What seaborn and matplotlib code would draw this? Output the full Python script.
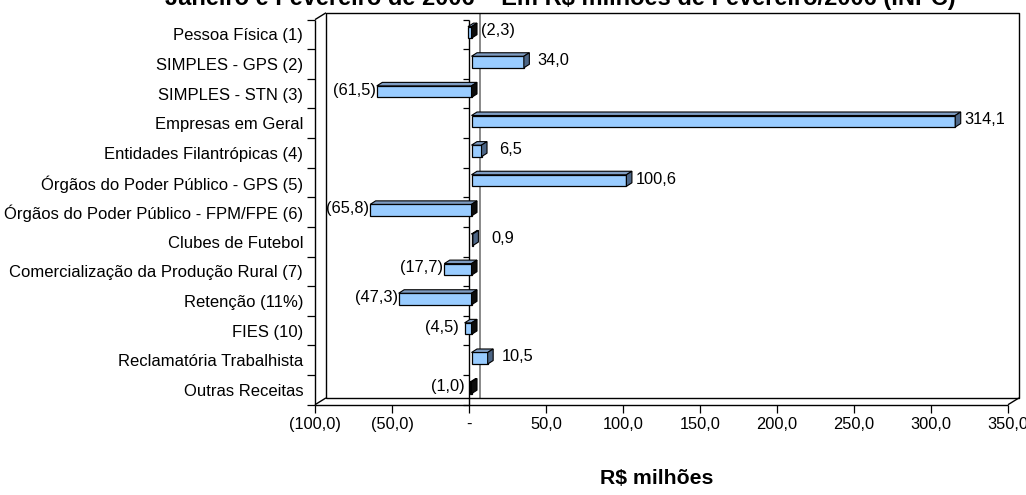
import matplotlib
matplotlib.use("Agg")
import matplotlib.pyplot as plt
import matplotlib.transforms as mtransforms
from matplotlib.patches import Polygon
from matplotlib.lines import Line2D
import pandas as pd
import seaborn as sns

# ---- data -------------------------------------------------------------
categories = [
    "Pessoa Física (1)",
    "SIMPLES - GPS (2)",
    "SIMPLES - STN (3)",
    "Empresas em Geral",
    "Entidades Filantrópicas (4)",
    "Órgãos do Poder Público - GPS (5)",
    "Órgãos do Poder Público - FPM/FPE (6)",
    "Clubes de Futebol",
    "Comercialização da Produção Rural (7)",
    "Retenção (11%)",
    "FIES (10)",
    "Reclamatória Trabalhista",
    "Outras Receitas",
]
values = [-2.3, 34.0, -61.5, 314.1, 6.5, 100.6, -65.8, 0.9, -17.7, -47.3, -4.5, 10.5, -1.0]
x_ticks = [-100, -50, 0, 50, 100, 150, 200, 250, 300, 350]

title = "Janeiro e Fevereiro de 2006 – Em R$ milhões de Fevereiro/2006 (INPC)"
x_title = "R$ milhões"


def br_number(v):
    """Brazilian style: comma decimal, negatives in parentheses, zero as '-'."""
    if v == 0:
        return "-"
    s = f"{abs(v):.1f}".replace(".", ",")
    return f"({s})" if v < 0 else s


# ---- style ------------------------------------------------------------
sns.set_theme(style="white")
plt.rcParams["font.family"] = ["Liberation Sans", "DejaVu Sans"]
FS_CAT = 12.0
FS = 11.8

W, H, DPI = 1026, 495, 100
fig = plt.figure(figsize=(W / DPI, H / DPI), dpi=DPI)
fig.patch.set_facecolor("white")

# front plane of the 3D box, in pixels
PL, PR, PT, PB = 315, 1008, 19.6, 404.7
ax = fig.add_axes([PL / W, 1 - PB / H, (PR - PL) / W, (PB - PT) / H])
ax.set_facecolor("none")

df = pd.DataFrame({"categoria": categories, "valor": values})
sns.barplot(
    data=df, x="valor", y="categoria", orient="h",
    color="#99CCFF", saturation=1, width=0.39,
    edgecolor="black", linewidth=0.9, ax=ax, zorder=3,
)
ax.set_xlim(-100, 350)
ax.set_ylim(len(categories) - 0.5, -0.5)
ax.set_xlabel("")
ax.set_ylabel("")
for s in ax.spines.values():
    s.set_visible(False)

# ticks: category labels at the left, boundary ticks, value ticks below
ax.set_yticks(range(len(categories)))
ax.set_yticklabels(categories, fontsize=FS_CAT, color="black")
ax.set_yticks([i - 0.5 for i in range(len(categories) + 1)], minor=True)
ax.tick_params(axis="y", which="major", length=0, pad=8.5)
ax.tick_params(axis="y", which="minor", length=5.8, width=0.9, color="black", left=True, direction="out")
ax.set_xticks(x_ticks)
ax.set_xticklabels([br_number(v) for v in x_ticks], fontsize=FS, color="black")
ax.tick_params(axis="x", which="major", length=5.8, width=0.9, color="black",
               bottom=True, direction="out", pad=3)

ident = mtransforms.IdentityTransform()
DX, DY = 11, 6.8          # depth of the box (back wall offset)
BDX, BDY = 2.5, 2.0       # bars sit slightly behind the front plane
FDX, FDY = 5.5, 3.5       # depth of each bar


def line(pts, color="black", lw=1.0, z=2):
    xs, ys = zip(*pts)
    ax.add_line(Line2D(xs, ys, transform=ident, color=color, lw=lw,
                       clip_on=False, zorder=z, solid_capstyle="butt"))


to_px = ax.transData.transform
fl, fb = ax.transAxes.transform((0, 0))
fr, ft = ax.transAxes.transform((1, 1))

# back wall, floor edge and side wall
line([(fl + DX, fb + DY), (fl + DX, ft + DY), (fr + DX, ft + DY), (fr + DX, fb + DY), (fl + DX, fb + DY)])
line([(fl, ft), (fl + DX, ft + DY)])
line([(fl, fb), (fl + DX, fb + DY)])
line([(fr, fb), (fr + DX, fb + DY)])
line([(fl, fb), (fr, fb)])
line([(fl, fb), (fl, ft)])

# zero lines: grey on the back wall, black on the front plane with ticks
zx, _ = to_px((0, 0))
line([(zx + DX, fb + DY), (zx + DX, ft + DY)], color="#808080", lw=1.3, z=1)
line([(zx, fb), (zx, ft)], lw=1.0, z=2)
for i in range(len(categories) + 1):
    _, yy = to_px((0, i - 0.5))
    line([(zx - 6, yy), (zx, yy)], lw=0.9)

# 3D faces on each bar
bar_tf = ax.transData + mtransforms.Affine2D().translate(BDX, BDY)
for p, v in zip(ax.patches, values):
    p.set_transform(bar_tf)
    (xa, ya), (xb, yb) = bar_tf.transform(
        [(p.get_x(), p.get_y()), (p.get_x() + p.get_width(), p.get_y() + p.get_height())])
    left, right = min(xa, xb), max(xa, xb)
    bot, top = min(ya, yb), max(ya, yb)
    top_face = [(left, top), (right, top), (right + FDX, top + FDY), (left + FDX, top + FDY)]
    side_face = [(right, bot), (right, top), (right + FDX, top + FDY), (right + FDX, bot + FDY)]
    ax.add_patch(Polygon(top_face, closed=True, transform=ident, clip_on=False,
                         facecolor="#7E9CC2", edgecolor="black", lw=0.8, zorder=4))
    ax.add_patch(Polygon(side_face, closed=True, transform=ident, clip_on=False,
                         facecolor="#4C6585" if v >= 0 else "#0d0d0d",
                         edgecolor="black", lw=0.8, zorder=4))

# value labels
label_right = [v >= 0 for v in values]
label_right[0] = True   # the small (2,3) label sits right of the zero line
for i, v in enumerate(values):
    vx, vy = to_px((v, i))
    cx = vx + 32 if label_right[i] else vx - 20
    ax.text(cx, vy + 3.5, br_number(v), transform=ident, ha="center", va="center",
            fontsize=FS, color="black", clip_on=False, zorder=5)

# titles (the main title runs off the top edge of the figure)
fig.text(560 / W, 1 - 5.5 / H, title, ha="center", va="baseline",
         fontsize=17, fontweight="bold", color="black")
fig.text(657 / W, 1 - 478 / H, x_title, ha="center", va="center",
         fontsize=15.3, fontweight="bold", color="black")

fig.savefig("out.png", dpi=DPI, facecolor="white")
